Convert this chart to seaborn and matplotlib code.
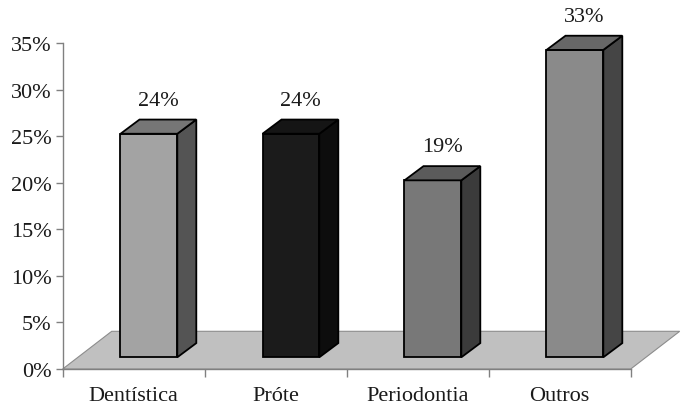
import matplotlib
matplotlib.use("Agg")
import matplotlib.pyplot as plt
from matplotlib.patches import Polygon
from matplotlib.ticker import FixedLocator, FuncFormatter
import seaborn as sns
import pandas as pd

# Share of cases by specialty (percent)
categories = ["Dentística", "Próte", "Periodontia", "Outros"]
values = [24, 24, 19, 33]
value_labels = ["24%", "24%", "19%", "33%"]
y_ticks = [0, 5, 10, 15, 20, 25, 30, 35]

# shading for each bar: front, top and side faces
front_colors = ["#a3a3a3", "#1b1b1b", "#787878", "#8a8a8a"]
top_colors = ["#767676", "#151515", "#5b5b5b", "#676767"]
side_colors = ["#545454", "#0d0d0d", "#3b3b3b", "#454545"]

df = pd.DataFrame({"cat": categories, "val": values})

sns.set_theme(style="white")
plt.rcParams["font.family"] = ["Liberation Serif", "DejaVu Serif"]

W, H = 684, 410
fig = plt.figure(figsize=(W / 100, H / 100), dpi=100)
ax_l, ax_r, ax_b, ax_t = 62.7, 630.7, 370, 44
ax = fig.add_axes([ax_l / W, 1 - ax_b / H, (ax_r - ax_l) / W, (ax_b - ax_t) / H])

sns.barplot(data=df, x="cat", y="val", hue="cat", palette=front_colors,
            width=0.4, edgecolor="black", linewidth=1.3, legend=False,
            ax=ax, zorder=3)
bars = list(ax.patches)

ax.set_xlim(-0.5, len(categories) - 0.5)
ax.set_ylim(0, 35)

# pixel -> data unit conversion for the 3D depth effect
sx = len(categories) / (ax_r - ax_l)
sy = 35 / (ax_b - ax_t)

# floor plane
floor_dx, floor_dy = 49 * sx, 37.7 * sy
x0, x1 = -0.5, len(categories) - 0.5
floor = Polygon([(x0, 0), (x1, 0), (x1 + floor_dx, floor_dy), (x0 + floor_dx, floor_dy)],
                closed=True, facecolor="#c0c0c0", edgecolor="#8c8c8c",
                linewidth=0.8, clip_on=False, zorder=1)
ax.add_patch(floor)

# bars stand part-way into the floor
off_x, off_y = 15.2 * sx, 11.7 * sy
depth_x, depth_y = 19 * sx, 14.2 * sy

for i, patch in enumerate(bars):
    bx = patch.get_x() + off_x
    bw = patch.get_width()
    h = patch.get_height()
    patch.set_x(bx)
    patch.set_y(off_y)
    patch.set_clip_on(False)
    top = off_y + h
    side = Polygon([(bx + bw, off_y), (bx + bw + depth_x, off_y + depth_y),
                    (bx + bw + depth_x, top + depth_y), (bx + bw, top)],
                   closed=True, facecolor=side_colors[i], edgecolor="black",
                   linewidth=1.3, joinstyle="miter", clip_on=False, zorder=3)
    lid = Polygon([(bx, top), (bx + bw, top), (bx + bw + depth_x, top + depth_y),
                   (bx + depth_x, top + depth_y)],
                  closed=True, facecolor=top_colors[i], edgecolor="black",
                  linewidth=1.3, joinstyle="miter", clip_on=False, zorder=3)
    ax.add_patch(side)
    ax.add_patch(lid)
    ax.text(bx + bw / 2 + depth_x / 2, top + depth_y + 10 * sy, value_labels[i],
            ha="center", va="bottom", fontsize=16, color="#1a1a1a", clip_on=False)

# axes styling
for s in ["top", "right"]:
    ax.spines[s].set_visible(False)
for s in ["left", "bottom"]:
    ax.spines[s].set_color("#808080")
    ax.spines[s].set_linewidth(1.0)
    ax.spines[s].set_zorder(2)

ax.set_yticks(y_ticks)
ax.yaxis.set_major_formatter(FuncFormatter(lambda v, _: f"{int(v)}%"))
ax.tick_params(axis="y", direction="out", length=5, width=1.0, color="#808080",
               pad=3, labelsize=16, labelcolor="#1a1a1a", left=True)

ax.set_xticks(range(len(categories)))
ax.set_xticklabels(categories)
ax.tick_params(axis="x", which="major", length=0, pad=12, labelsize=16,
               labelcolor="#1a1a1a")
ax.xaxis.set_minor_locator(FixedLocator([i - 0.5 for i in range(len(categories) + 1)]))
ax.tick_params(axis="x", which="minor", direction="out", length=6, width=1.0,
               color="#808080", bottom=True)

ax.set_xlabel("")
ax.set_ylabel("")
ax.grid(False)

fig.savefig("out.png", dpi=100, facecolor="white")
